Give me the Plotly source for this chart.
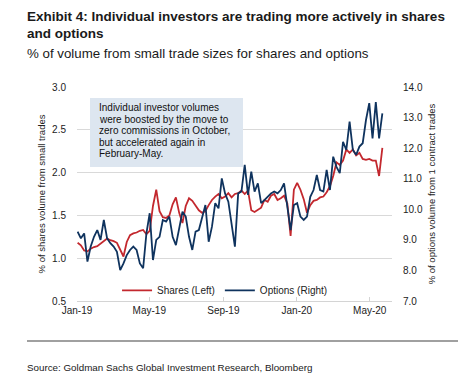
import pandas as pd
import plotly.graph_objects as go

# ---- data ----
shares_left = [
    1.18, 1.15, 1.09, 1.08, 1.11, 1.13, 1.14, 1.17, 1.20, 1.23,
    1.21, 1.20, 1.18, 1.10, 1.02, 1.19, 1.27, 1.29, 1.30, 1.32,
    1.33, 1.28, 1.32, 1.61, 1.80, 1.55, 1.48, 1.47, 1.50, 1.63,
    1.71, 1.53, 1.41, 1.61, 1.70, 1.67, 1.61, 1.56, 1.53, 1.55,
    1.62, 1.68, 1.72, 1.75, 1.70, 1.72, 1.76, 1.71, 1.75, 1.76,
    1.79, 1.75, 1.79, 1.56, 1.54, 1.56, 1.59, 1.68, 1.66, 1.73,
    1.75, 1.68, 1.70, 1.73, 1.64, 1.26, 1.80, 1.88, 1.80, 1.69,
    1.53, 1.62, 1.67, 1.68, 1.71, 1.72, 1.77, 1.84, 1.96, 2.12,
    2.09, 2.14, 2.27, 2.23, 2.27, 2.20, 2.23, 2.16, 2.15, 2.16,
    2.14, 2.14, 1.96, 2.29,
]
options_right = [
    9.27, 9.05, 9.21, 8.29, 8.78, 9.10, 9.32, 9.00, 9.65, 9.05,
    8.89, 8.78, 8.61, 8.01, 8.23, 8.50, 8.67, 8.78, 8.67, 8.23,
    8.07, 9.21, 9.87, 8.34, 9.00, 9.10, 9.65, 9.60, 9.76, 9.10,
    8.83, 9.38, 9.92, 9.76, 9.10, 8.67, 9.27, 9.32, 9.76, 10.14,
    8.94, 9.43, 10.20, 10.03, 11.01, 10.52, 10.25, 9.43, 8.78, 10.52,
    10.58, 11.45, 10.47, 11.23, 10.58, 10.85, 10.20, 10.30, 10.41, 10.52,
    10.58, 10.52, 10.63, 10.85, 10.09, 9.32, 10.14, 10.20, 9.76, 9.65,
    9.76, 10.41, 10.63, 11.12, 10.63, 10.58, 11.29, 10.63, 11.72, 11.39,
    11.18, 12.21, 11.94, 12.87, 11.94, 11.78, 12.05, 12.16, 12.92, 13.47,
    12.32, 13.51, 12.32, 13.14,
]
dates = pd.date_range("2019-01-02", "2020-05-22", periods=len(shares_left))

title_lines = ["Exhibit 4: Individual investors are trading more actively in shares", "and options"]
subtitle = "% of volume from small trade sizes for shares and options"
source = "Source: Goldman Sachs Global Investment Research, Bloomberg"
note_lines = [
    "Individual investor volumes",
    "were boosted by the move to",
    "zero commissions in October,",
    "but accelerated again in",
    "February-May.",
]
series_names = ["Shares (Left)", "Options (Right)"]
left_title = "% of shares volume from small trades"
right_title = "% of options volume from 1 contract trades"

RED = "#c3282e"
BLUE = "#0f335e"
SANS = "Liberation Sans, Arial, sans-serif"

fig = go.Figure()
fig.add_trace(go.Scatter(x=dates, y=shares_left, name=series_names[0], mode="lines",
                         line=dict(color=RED, width=1.8), yaxis="y"))
fig.add_trace(go.Scatter(x=dates, y=options_right, name=series_names[1], mode="lines",
                         line=dict(color=BLUE, width=1.8), yaxis="y2"))

W, H = 469, 375
L, R, T, B = 77, 392, 87, 301

fig.update_layout(
    width=W, height=H,
    margin=dict(l=L, r=W - R, t=T, b=H - B),
    paper_bgcolor="white", plot_bgcolor="white",
    showlegend=True,
    legend=dict(orientation="h", x=0.47, xanchor="center", y=0.05, yanchor="middle",
                bgcolor="rgba(0,0,0,0)", font=dict(family=SANS, size=10, color="#222"),
                itemwidth=30, tracegroupgap=0),
    xaxis=dict(type="date", range=["2019-01-01", "2020-06-07"],
               tick0="2019-01-01", dtick="M4", tickformat="%b-%y",
               showgrid=False, showline=True, linecolor="#d4d4d4", linewidth=1,
               ticks="inside", ticklen=4, tickcolor="#d4d4d4",
               tickfont=dict(family=SANS, size=10, color="#222"), zeroline=False),
    yaxis=dict(range=[0.5, 3.0], dtick=0.5, tickformat=".1f",
               showgrid=True, gridcolor="#d9d9d9", gridwidth=1, zeroline=False,
               showline=False, ticks="", ticklabelstandoff=10,
               tickfont=dict(family=SANS, size=10, color="#222"),
               title=dict(text=left_title, font=dict(family=SANS, size=9.5, color="#222"), standoff=4)),
    yaxis2=dict(range=[7, 14], dtick=1, tickformat=".1f", overlaying="y", side="right",
                showgrid=False, zeroline=False, showline=False, ticks="", ticklabelstandoff=10,
                tickfont=dict(family=SANS, size=10, color="#222"),
                title=dict(text=right_title, font=dict(family=SANS, size=9.5, color="#222"), standoff=6)),
)

pw, ph = R - L, B - T
def px(x):
    return (x - L) / pw
def py(y):
    return (B - y) / ph

# note box
fig.add_shape(type="rect", xref="paper", yref="paper",
              x0=px(90), x1=px(243), y0=py(167), y1=py(98),
              fillcolor="#dde6f0", line=dict(width=0), layer="above")
for i, t in enumerate(note_lines):
    fig.add_annotation(text=t, xref="paper", yref="paper", x=px(97), y=py(107.5 + i * 11.5),
                       xanchor="left", yanchor="middle", showarrow=False,
                       font=dict(family=SANS, size=10, color="#111"))

# titles
for i, t in enumerate(title_lines):
    fig.add_annotation(text="<b>" + t + "</b>", xref="paper", yref="paper", x=px(25), y=py(16 + i * 18),
                       xanchor="left", yanchor="middle", showarrow=False,
                       font=dict(family=SANS, size=13.5, color="#1a1a1a"))
fig.add_annotation(text=subtitle, xref="paper", yref="paper", x=px(25), y=py(53),
                   xanchor="left", yanchor="middle", showarrow=False,
                   font=dict(family=SANS, size=13.3, color="#1a1a1a"))
# source
fig.add_shape(type="line", xref="paper", yref="paper", x0=px(27), x1=px(458), y0=py(341), y1=py(341),
              line=dict(color="#808080", width=1.5))
fig.add_annotation(text=source, xref="paper", yref="paper", x=px(25), y=py(367),
                   xanchor="left", yanchor="middle", showarrow=False,
                   font=dict(family=SANS, size=9.8, color="#1a1a1a"))

fig.write_html("out.html", config={"displayModeBar": False},
               post_script="document.body.style.margin='0px';")
